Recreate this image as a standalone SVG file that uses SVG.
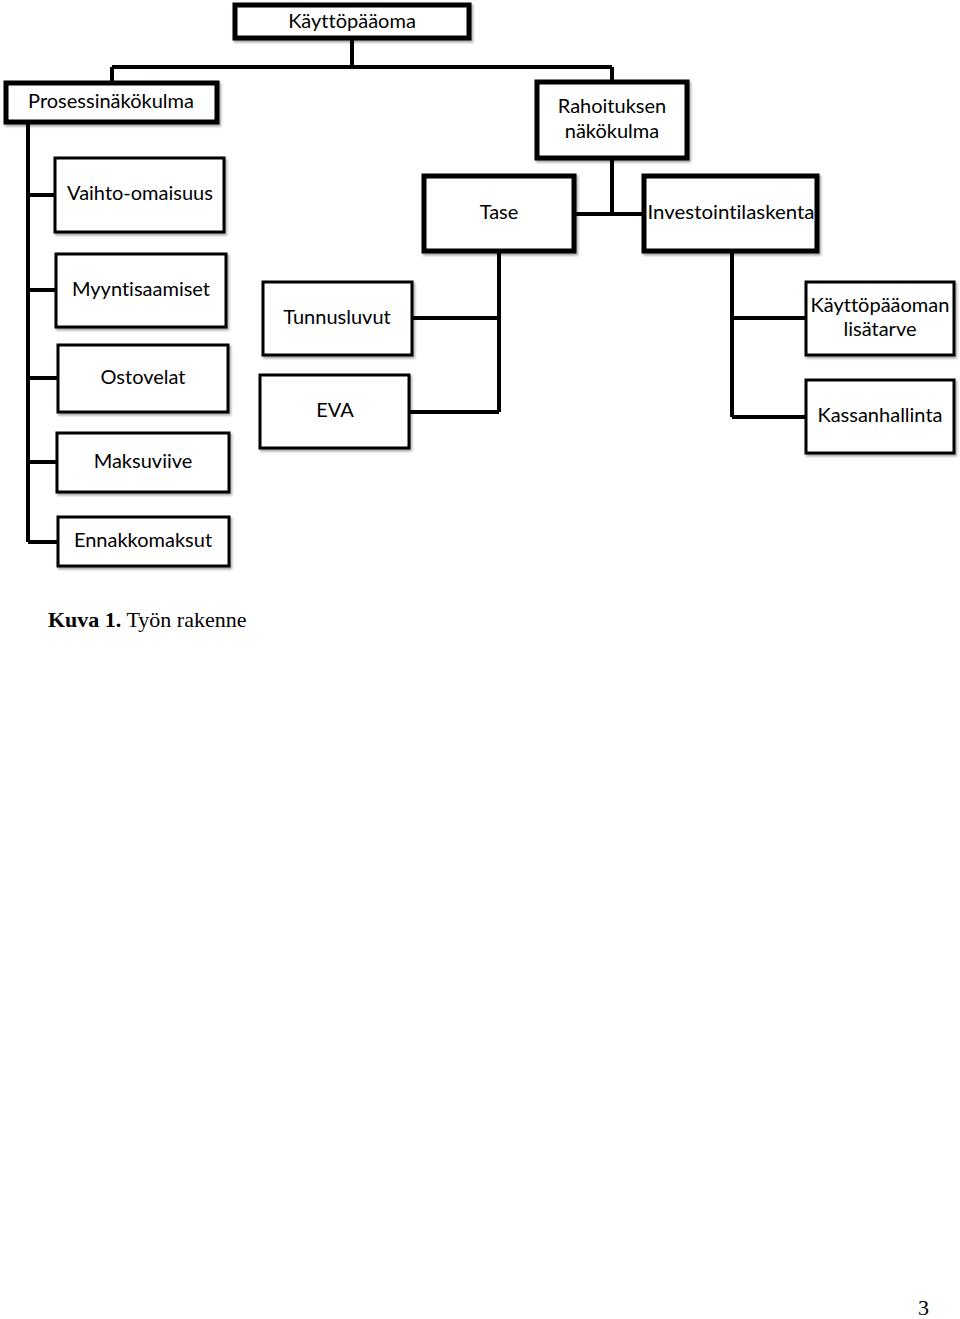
<svg xmlns="http://www.w3.org/2000/svg" width="960" height="1319" viewBox="0 0 960 1319">
<defs>
<filter id="sh" x="-10%" y="-10%" width="130%" height="140%">
<feDropShadow dx="1.5" dy="2" stdDeviation="1.2" flood-color="#000" flood-opacity="0.35"/>
</filter>
</defs>
<style>
.main{fill:#fff;stroke:#000;stroke-width:5;filter:url(#sh)}
.leaf{fill:#fff;stroke:#000;stroke-width:3;filter:url(#sh)}
.t{font-family:Lato,"Open Sans","Liberation Sans",sans-serif;font-size:20px;fill:#000;text-anchor:middle;font-variant-ligatures:none}
.c{fill:none;stroke:#000;stroke-width:4;stroke-linejoin:miter}
.cap{font-family:"Liberation Serif","Times New Roman",serif;font-size:22px;fill:#000}
</style>
<rect width="960" height="1319" fill="#fff"/>
<g id="connectors">
<path class="c" d="M352 38 V67 M112 67 H612 M112 67 V82 M612 67 V82"/>
<path class="c" d="M28 123 V542 M28 195 H55 M28 290 H55 M28 378 H57 M28 462 H56 M28 542 H57"/>
<path class="c" d="M612 158 V214 M575 214 H643"/>
<path class="c" d="M499 251 V412 M413 318 H499 M410 412 H499"/>
<path class="c" d="M732 251 V417 M732 318 H805 M732 417 H805"/>
</g>
<g id="n-kayttopaaoma"><rect class="main" x="235" y="5" width="234" height="33"/><text class="t" x="352" y="28">Käyttöpääoma</text></g>
<g id="n-prosessi"><rect class="main" x="6" y="83" width="211" height="39"/><text class="t" x="111" y="108">Prosessinäkökulma</text></g>
<g id="n-rahoitus"><rect class="main" x="537" y="82" width="150" height="76"/><text class="t" x="612" y="113">Rahoituksen</text><text class="t" x="612" y="138">näkökulma</text></g>
<g id="n-vaihto"><rect class="leaf" x="55" y="158" width="169" height="74"/><text class="t" x="140" y="200">Vaihto-omaisuus</text></g>
<g id="n-tase"><rect class="main" x="424" y="176" width="150" height="75"/><text class="t" x="499" y="219">Tase</text></g>
<g id="n-invest"><rect class="main" x="644" y="176" width="173" height="75"/><text class="t" x="731" y="219" textLength="167" lengthAdjust="spacingAndGlyphs">Investointilaskenta</text></g>
<g id="n-myynti"><rect class="leaf" x="56" y="254" width="170" height="73"/><text class="t" x="141" y="296">Myyntisaamiset</text></g>
<g id="n-tunnus"><rect class="leaf" x="263" y="282" width="149" height="73"/><text class="t" x="337" y="324">Tunnusluvut</text></g>
<g id="n-lisatarve"><rect class="leaf" x="806" y="282" width="148" height="73"/><text class="t" x="880" y="312">Käyttöpääoman</text><text class="t" x="880" y="336">lisätarve</text></g>
<g id="n-ostovelat"><rect class="leaf" x="58" y="345" width="170" height="67"/><text class="t" x="143" y="384">Ostovelat</text></g>
<g id="n-eva"><rect class="leaf" x="260" y="375" width="149" height="73"/><text class="t" x="335" y="417">EVA</text></g>
<g id="n-kassa"><rect class="leaf" x="806" y="380" width="148" height="73"/><text class="t" x="880" y="422">Kassanhallinta</text></g>
<g id="n-maksuviive"><rect class="leaf" x="57" y="433" width="172" height="59"/><text class="t" x="143" y="468">Maksuviive</text></g>
<g id="n-ennakko"><rect class="leaf" x="58" y="517" width="171" height="49"/><text class="t" x="143" y="547">Ennakkomaksut</text></g>
<text class="cap" x="48" y="627"><tspan font-weight="bold">Kuva 1.</tspan> Työn rakenne</text>
<text class="cap" x="918" y="1315">3</text>
</svg>
